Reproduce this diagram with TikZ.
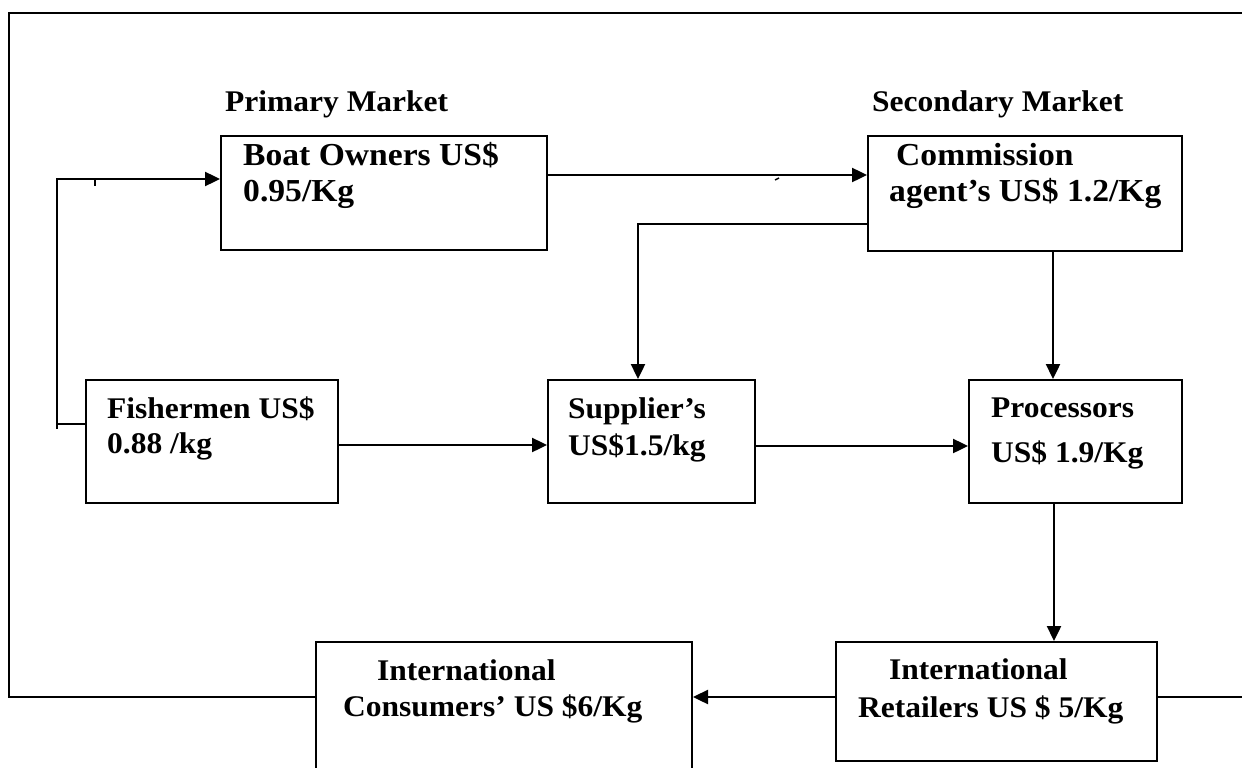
\documentclass[tikz,border=0pt]{standalone}
\usepackage{fontspec}
\setmainfont{Liberation Serif}[FakeStretch=1.05]
\usetikzlibrary{arrows.meta}
\tikzset{
  box/.style={draw, line width=2pt, inner sep=0pt},
  lbl/.style={anchor=base west, inner sep=0pt, font=\bfseries\fontsize{30}{34}\selectfont},
  lblbig/.style={lbl, font=\bfseries\fontsize{32}{36}\selectfont},
  conn/.style={line width=2.4pt},
  arr/.style={conn, -{Triangle[length=15pt,width=14pt]}},
  tick/.style={line width=1.5pt}
}
\begin{document}
\begin{tikzpicture}[x=1pt,y=-1pt]
\useasboundingbox (0,0) rectangle (1242,768);
\clip (0,0) rectangle (1242,768);
% boxes
\node[box, minimum width=326pt, minimum height=114pt] (boat) at (384,193) {};
\node[box, minimum width=314pt, minimum height=115pt] (comm) at (1025,193.5) {};
\node[box, minimum width=252pt, minimum height=123pt] (fish) at (212,441.5) {};
\node[box, minimum width=207pt, minimum height=123pt] (sup) at (651.5,441.5) {};
\node[box, minimum width=213pt, minimum height=123pt] (proc) at (1075.5,441.5) {};
\node[box, minimum width=321pt, minimum height=119pt] (ret) at (996.5,701.5) {};
\node[box, minimum width=376pt, minimum height=170pt] (cons) at (504,727) {};
% labels
\node[lbl] (lprim) at (225,111) {Primary Market};
\node[lbl] (lsec) at (872,111) {Secondary Market};
\node[lblbig] (lboat1) at (243,165) {Boat Owners US\$};
\node[lblbig] (lboat2) at (243,201) {0.95/Kg};
\node[lblbig] (lcomm1) at (896,165) {Commission};
\node[lblbig] (lcomm2) at (889,201) {agent’s US\$ 1.2/Kg};
\node[lbl] (lfish1) at (107,418) {Fishermen US\$};
\node[lbl] (lfish2) at (107,453) {0.88 /kg};
\node[lbl] (lsup1) at (568,418) {Supplier’s};
\node[lbl] (lsup2) at (568,455) {US\$1.5/kg};
\node[lbl] (lproc1) at (991,417) {Processors};
\node[lbl] (lproc2) at (991,462) {US\$ 1.9/Kg};
\node[lbl] (lret1) at (889,679) {International};
\node[lbl] (lret2) at (858,717) {Retailers US \$ 5/Kg};
\node[lbl] (lcons1) at (377,680) {International};
\node[lbl] (lcons2) at (343,716) {Consumers’ US \$6/Kg};
% frame coordinates
\coordinate (fBL) at (9,697);
\coordinate (fTL) at (9,13);
\coordinate (fTR) at (1242,13);
\coordinate (fBR) at (1242,697);
\coordinate (brB) at (57,424);
\coordinate (brT) at (57,179);
% connectors
\draw[arr] (boat.east |- 0,175) -- (comm.west |- 0,175);
\draw[arr] (fish.west |- 0,424) -- (brB) -- (brT) -- (boat.west |- 0,179);
\draw[conn] (brB) -- ++(0,5);
\draw[arr] (fish.east |- 0,445) -- (sup.west |- 0,445);
\draw[arr] (sup.east |- 0,446) -- (proc.west |- 0,446);
\draw[arr] (comm.west |- 0,224) -| (sup.north -| 638,0);
\draw[arr] (comm.south -| 1053,0) -- (proc.north -| 1053,0);
\draw[arr] (proc.south -| 1054,0) -- (ret.north -| 1054,0);
\draw[arr] (ret.west |- 0,697) -- (cons.east |- 0,697);
\draw[conn] (cons.west |- 0,697) -- (fBL) -- (fTL) -- (fTR);
\draw[conn] (ret.east |- 0,697) -- (fBR);
% small stray marks
\draw[tick] (95,180) -- (95,186);
\draw[tick] (775,180) -- (779,178);
\end{tikzpicture}
\end{document}
